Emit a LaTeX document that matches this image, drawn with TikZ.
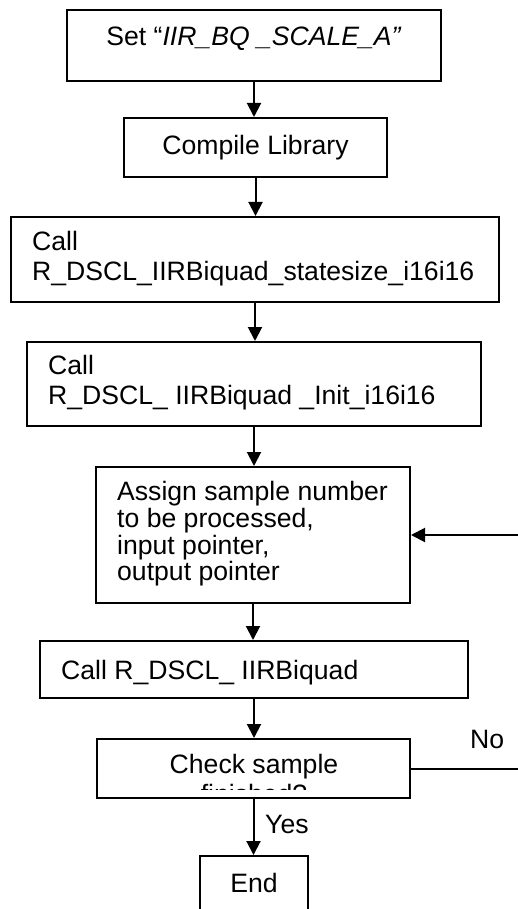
\documentclass[tikz,border=0pt]{standalone}
\usepackage{fontspec}
\setmainfont{Liberation Sans}
\usetikzlibrary{arrows.meta}
\tikzset{
  box/.style={draw, line width=2pt, rectangle, inner sep=0pt},
  arr/.style={line width=2pt, -{Triangle[width=14pt,length=14pt]}},
  plain/.style={line width=2pt},
  txt/.style={inner sep=0pt, font=\fontsize{26.6}{30}\selectfont},
}
\begin{document}
\begin{tikzpicture}[x=1pt,y=-1pt]
\useasboundingbox (0,0) rectangle (518,909);
\clip (0,0) rectangle (518,909);
% boxes
\node[box, minimum width=374pt, minimum height=71pt] (b1) at (254,45.5) {};
\node[box, minimum width=263pt, minimum height=59pt] (b2) at (255.5,147.5) {};
\node[box, minimum width=488pt, minimum height=85pt] (b3) at (255,259.5) {};
\node[box, minimum width=454pt, minimum height=84pt] (b4) at (254,384) {};
\node[box, minimum width=314pt, minimum height=136pt] (b5) at (253,535) {};
\node[box, minimum width=428pt, minimum height=57pt] (b6) at (254,669.5) {};
\node[box, minimum width=313pt, minimum height=59pt] (b7) at (253.5,768.5) {};
\node[box, minimum width=108pt, minimum height=74pt] (b8) at (254,893) {};
% texts
\node[txt, anchor=base] (t1) at (254,46) {Set “\textit{IIR\_BQ \_SCALE\_A”}};
\node[txt, anchor=base] (t2) at (255.5,155) {Compile Library};
\node[txt, anchor=base west] (t3a) at (32,250) {Call};
\node[txt, anchor=base west] (t3b) at (32,280) {R\_DSCL\_IIRBiquad\_statesize\_i16i16};
\node[txt, anchor=base west] (t4a) at (48,374) {Call};
\node[txt, anchor=base west] (t4b) at (48,404) {R\_DSCL\_ IIRBiquad \_Init\_i16i16};
\node[txt, anchor=base west] (t5a) at (117,500) {Assign sample number};
\node[txt, anchor=base west] (t5b) at (117,527) {to be processed,};
\node[txt, anchor=base west] (t5c) at (117,554) {input pointer,};
\node[txt, anchor=base west] (t5d) at (117,580) {output pointer};
\node[txt, anchor=base west] (t6) at (61,679) {Call R\_DSCL\_ IIRBiquad};
\node[txt, anchor=base] (t7) at (254,773) {Check sample};
\begin{scope}
  \clip (b7.north west) rectangle (410,789);
  \node[txt, anchor=base] (t7b) at (254,803) {finished?};
\end{scope}
\node[txt, anchor=base] (t8) at (254,892) {End};
\node[txt, anchor=base west] (no) at (470,748) {No};
\node[txt, anchor=base west] (yes) at (265,833) {Yes};
% connectors
\draw[arr] (b1.south) -- (b1.south |- b2.north);
\draw[arr] (b2.south) -- (b2.south |- b3.north);
\draw[arr] (b3.south) -- (b3.south |- b4.north);
\draw[arr] (b4.south) -- (b4.south |- b5.north);
\draw[arr] (b5.south) -- (b5.south |- b6.north);
\draw[arr] (b6.south) -- (b6.south |- b7.north);
\draw[arr] (b7.south) -- (b7.south |- b8.north);
\coordinate (loopx) at (545,0);
\draw[arr] (b7.east) -- (b7.east -| loopx) |- (b5.east);
\end{tikzpicture}
\end{document}
